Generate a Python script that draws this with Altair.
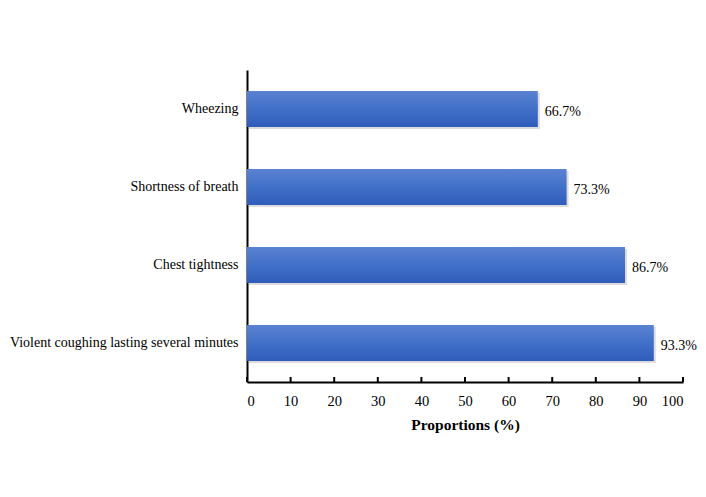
import altair as alt
import pandas as pd

symptoms = ["Wheezing", "Shortness of breath", "Chest tightness", "Violent coughing lasting several minutes"]
proportions = [66.7, 73.3, 86.7, 93.3]
labels = ["66.7%", "73.3%", "86.7%", "93.3%"]
tick_values = [0, 10, 20, 30, 40, 50, 60, 70, 80, 90, 100]

df = pd.DataFrame({"symptom": symptoms, "value": proportions, "label": labels})
ticks_df = pd.DataFrame({"t": tick_values})

FONT = "Liberation Serif"

xscale = alt.Scale(domain=[0, 100], nice=False, zero=True)
yscale = alt.Scale(domain=symptoms, paddingInner=0.54, paddingOuter=0.27)

grad = alt.Gradient(
    gradient="linear", x1=0, x2=0, y1=0, y2=1,
    stops=[alt.GradientStop(color="#5b82d2", offset=0),
           alt.GradientStop(color="#4170c8", offset=0.5),
           alt.GradientStop(color="#2f5cba", offset=1)],
)

base = alt.Chart(df)

shadow = base.mark_bar(color="#9a9a9a", opacity=0.35, xOffset=2, yOffset=2).encode(
    x=alt.X("value:Q", scale=xscale),
    y=alt.Y("symptom:N", scale=yscale),
)

bars = base.mark_bar(fill=grad).encode(
    x=alt.X("value:Q", scale=xscale,
            axis=alt.Axis(values=tick_values, title="Proportions (%)", ticks=False,
                          grid=False, domainColor="black", domainWidth=2,
                          labelFont=FONT, labelFontSize=14.5, labelColor="black",
                          labelPadding=12, titleFont=FONT, titleFontSize=15.5,
                          titleFontWeight="bold", titleColor="black", titlePadding=10)),
    y=alt.Y("symptom:N", scale=yscale, sort=symptoms,
            axis=alt.Axis(title=None, ticks=False, grid=False, domainColor="black",
                          domainWidth=2, labelFont=FONT, labelFontSize=14,
                          labelColor="black", labelPadding=9, labelLimit=300)),
)

text = base.mark_text(align="left", baseline="middle", dx=7, dy=3, font=FONT,
                      fontSize=14, color="black").encode(
    x=alt.X("value:Q", scale=xscale),
    y=alt.Y("symptom:N", scale=yscale),
    text="label:N",
)

tickmarks = alt.Chart(ticks_df).mark_rule(color="black", strokeWidth=2).encode(
    x=alt.X("t:Q", scale=xscale),
    y=alt.value(312),
    y2=alt.value(307),
)

chart = alt.layer(shadow, bars, text, tickmarks).properties(
    width=436, height=312,
    background="white",
    autosize=alt.AutoSizeParams(type="none"),
    padding={"left": 239, "top": 62, "right": 15, "bottom": 107},
).configure_view(stroke=None)

chart.save("out.html", embed_options={"renderer": "svg", "actions": False})
